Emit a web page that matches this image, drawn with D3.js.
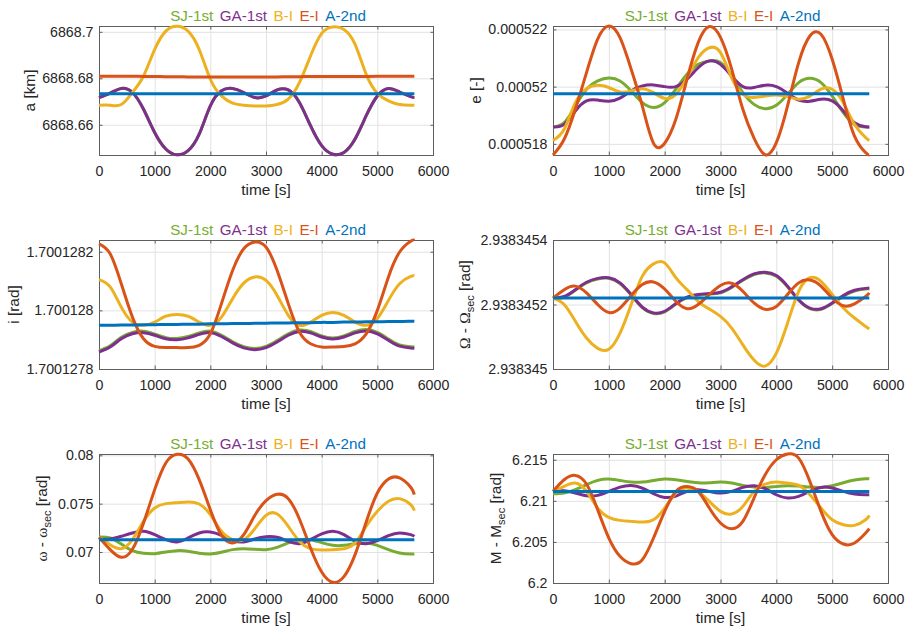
<!DOCTYPE html>
<html>
<head>
<meta charset="utf-8">
<script src="https://cdn.jsdelivr.net/npm/d3@7"></script>
<style>
  body { margin: 0; background: #fff; }
  svg { font-family: "Liberation Sans", Arial, Helvetica, sans-serif; }
</style>
</head>
<body>
<svg id="fig" width="905" height="631"></svg>
<script>
// time samples [s], one orbit
const time = [0, 200, 400, 600, 800, 1000, 1200, 1400, 1600, 1800, 2000, 2200, 2400, 2600, 2800,
              3000, 3200, 3400, 3600, 3800, 4000, 4200, 4400, 4600, 4800, 5000, 5200, 5400, 5600, 5665];
const xTicks = [0, 1000, 2000, 3000, 4000, 5000, 6000];
const xTickLabels = ["0", "1000", "2000", "3000", "4000", "5000", "6000"];
const seriesNames = ["SJ-1st", "GA-1st", "B-I", "E-I", "A-2nd"];
const seriesColors = ["#77AC30", "#7E2F8E", "#EDB120", "#D95319", "#0072BD"];

// semi-major axis a [km]
const aGA = [6868.6717, 6868.6736, 6868.6756, 6868.6739, 6868.6667, 6868.6567, 6868.6496, 6868.6471, 6868.6489, 6868.6560,
             6868.6681, 6868.6746, 6868.6756, 6868.6739, 6868.6717, 6868.6724, 6868.6750, 6868.6750, 6868.6696, 6868.6596,
             6868.6510, 6868.6473, 6868.6481, 6868.6539, 6868.6639, 6868.6724, 6868.6756, 6868.6741, 6868.6721, 6868.6717];
const aSJ = [6868.6717, 6868.6736, 6868.6756, 6868.6739, 6868.6667, 6868.6567, 6868.6496, 6868.6471, 6868.6489, 6868.6560,
             6868.6681, 6868.6746, 6868.6756, 6868.6739, 6868.6717, 6868.6724, 6868.6750, 6868.6750, 6868.6696, 6868.6596,
             6868.6510, 6868.6473, 6868.6481, 6868.6539, 6868.6639, 6868.6724, 6868.6756, 6868.6741, 6868.6721, 6868.6717];
const aBI = [6868.6684, 6868.6684, 6868.6687, 6868.6739, 6868.6810, 6868.6924, 6868.7003, 6868.7024, 6868.7003, 6868.6924,
             6868.6796, 6868.6724, 6868.6693, 6868.6684, 6868.6681, 6868.6681, 6868.6687, 6868.6710, 6868.6781, 6868.6896,
             6868.6993, 6868.7021, 6868.7010, 6868.6946, 6868.6817, 6868.6736, 6868.6703, 6868.6687, 6868.6684, 6868.6684];
const aEI = [6868.6809, 6868.6809, 6868.6809, 6868.6809, 6868.6808, 6868.6808, 6868.6807, 6868.6807, 6868.6806, 6868.6806,
             6868.6806, 6868.6806, 6868.6806, 6868.6806, 6868.6806, 6868.6806, 6868.6806, 6868.6807, 6868.6807, 6868.6808,
             6868.6808, 6868.6808, 6868.6808, 6868.6808, 6868.6808, 6868.6809, 6868.6809, 6868.6809, 6868.6809, 6868.6809];
const aA2 = [6868.6734, 6868.6734, 6868.6734, 6868.6734, 6868.6734, 6868.6734, 6868.6734, 6868.6734, 6868.6734, 6868.6734,
             6868.6734, 6868.6734, 6868.6734, 6868.6734, 6868.6734, 6868.6734, 6868.6734, 6868.6734, 6868.6734, 6868.6734,
             6868.6734, 6868.6734, 6868.6734, 6868.6734, 6868.6734, 6868.6734, 6868.6734, 6868.6734, 6868.6734, 6868.6734];

// eccentricity e [-]
const eSJ = [0.00051859, 0.00051874, 0.00051932, 0.00051991, 0.0005202, 0.0005203, 0.0005202, 0.00051985, 0.00051944, 0.00051927,
             0.00051944, 0.00051991, 0.00052043, 0.00052078, 0.0005209, 0.00052084, 0.00052037, 0.00051979, 0.00051938, 0.00051923,
             0.00051935, 0.00051973, 0.00052014, 0.00052029, 0.00052014, 0.00051967, 0.00051909, 0.00051868, 0.00051859, 0.00051859];
const eGA = [0.00051859, 0.00051868, 0.00051915, 0.0005195, 0.00051953, 0.00051949, 0.0005196, 0.00051985, 0.00052002, 0.00052006,
             0.00052, 0.00052, 0.00052026, 0.00052066, 0.0005209, 0.00052078, 0.00052037, 0.00052, 0.00051997, 0.00052005,
             0.00052, 0.00051977, 0.00051953, 0.00051949, 0.00051956, 0.0005195, 0.00051915, 0.00051874, 0.0005186, 0.00051859];
const eBI = [0.00051812, 0.00051851, 0.00051944, 0.00051993, 0.00052005, 0.00051997, 0.00051981, 0.00051985, 0.00051993, 0.00051979,
             0.00051959, 0.00051973, 0.00052031, 0.00052101, 0.00052136, 0.00052119, 0.00052031, 0.00051973, 0.00051962, 0.00051967,
             0.00051971, 0.00051965, 0.00051956, 0.00051967, 0.00051991, 0.00051991, 0.00051944, 0.00051868, 0.00051822, 0.00051812];
const eEI = [0.00051761, 0.00051816, 0.00051921, 0.00052049, 0.00052166, 0.00052212, 0.00052171, 0.00052061, 0.00051932, 0.00051802,
             0.00051802, 0.00051886, 0.00052026, 0.00052154, 0.0005221, 0.00052172, 0.00052061, 0.00051921, 0.0005182, 0.00051762,
             0.00051804, 0.00051932, 0.00052084, 0.00052177, 0.00052183, 0.00052096, 0.00051956, 0.00051827, 0.00051769, 0.00051761];
const eA2 = [0.000519755, 0.000519755, 0.000519755, 0.000519755, 0.000519755, 0.000519755, 0.000519755, 0.000519755, 0.000519755, 0.000519755,
             0.000519755, 0.000519755, 0.000519755, 0.000519755, 0.000519755, 0.000519755, 0.000519755, 0.000519755, 0.000519755, 0.000519755,
             0.000519755, 0.000519755, 0.000519755, 0.000519755, 0.000519755, 0.000519755, 0.000519755, 0.000519755, 0.000519755, 0.000519755];

// inclination i [rad]
const iSJ = [1.700127862, 1.700127879, 1.700127908, 1.700127925, 1.700127929, 1.700127919, 1.700127907, 1.700127904, 1.700127911, 1.700127923,
             1.700127929, 1.700127915, 1.700127893, 1.700127876, 1.70012787, 1.700127877, 1.700127897, 1.70012792, 1.700127933, 1.700127928,
             1.700127913, 1.700127906, 1.700127913, 1.700127928, 1.700127935, 1.700127925, 1.700127902, 1.700127882, 1.700127876, 1.700127875];
const iGA = [1.700127858, 1.700127875, 1.700127903, 1.70012792, 1.700127924, 1.700127915, 1.700127903, 1.7001279, 1.700127906, 1.700127918,
             1.700127924, 1.700127911, 1.700127889, 1.700127872, 1.700127866, 1.700127873, 1.700127892, 1.700127915, 1.700127928, 1.700127923,
             1.700127909, 1.700127902, 1.700127909, 1.700127923, 1.70012793, 1.70012792, 1.700127898, 1.700127878, 1.700127872, 1.700127871];
const iBI = [1.700128105, 1.70012808, 1.700128011, 1.70012796, 1.700127949, 1.70012796, 1.70012798, 1.700127986, 1.70012798, 1.70012796,
             1.700127949, 1.700127977, 1.70012804, 1.700128093, 1.700128114, 1.700128102, 1.700128051, 1.700127983, 1.700127949, 1.70012796,
             1.700127983, 1.700127993, 1.700127983, 1.70012796, 1.700127949, 1.700127972, 1.700128034, 1.700128091, 1.700128116, 1.700128118];
const iEI = [1.700128227, 1.700128193, 1.700128091, 1.700127977, 1.700127903, 1.700127877, 1.700127873, 1.700127873, 1.700127873, 1.700127881,
             1.70012792, 1.700128023, 1.700128136, 1.70012821, 1.700128233, 1.700128216, 1.700128136, 1.700128023, 1.700127926, 1.700127886,
             1.700127875, 1.700127875, 1.700127877, 1.700127886, 1.70012792, 1.700128, 1.700128114, 1.700128199, 1.700128236, 1.700128239];
const iA2 = [1.700127949, 1.700127949, 1.70012795, 1.70012795, 1.700127951, 1.700127951, 1.700127952, 1.700127952, 1.700127953, 1.700127953,
             1.700127954, 1.700127954, 1.700127955, 1.700127955, 1.700127956, 1.700127956, 1.700127957, 1.700127957, 1.700127958, 1.700127958,
             1.700127959, 1.700127959, 1.70012796, 1.70012796, 1.700127961, 1.700127961, 1.700127962, 1.700127962, 1.700127963, 1.700127963];

// RAAN minus secular part [rad]
const raanSJ = [2.938345218, 2.938345223, 2.938345244, 2.938345267, 2.938345279, 2.938345281, 2.938345265, 2.938345229, 2.93834519, 2.938345172,
                2.938345177, 2.938345201, 2.938345221, 2.938345229, 2.938345232, 2.938345236, 2.938345253, 2.938345275, 2.938345293, 2.938345298,
                2.938345288, 2.938345255, 2.938345213, 2.938345187, 2.938345185, 2.938345203, 2.938345226, 2.938345242, 2.938345248, 2.938345249];
const raanGA = [2.93834522, 2.938345225, 2.938345246, 2.938345269, 2.938345281, 2.938345283, 2.938345267, 2.938345231, 2.938345192, 2.938345174,
                2.938345179, 2.938345203, 2.938345223, 2.938345231, 2.938345234, 2.938345238, 2.938345255, 2.938345277, 2.938345295, 2.9383453,
                2.93834529, 2.938345257, 2.938345215, 2.938345189, 2.938345187, 2.938345205, 2.938345228, 2.938345244, 2.93834525, 2.938345251];
const raanBI = [2.93834522, 2.9383452, 2.938345148, 2.938345096, 2.938345064, 2.938345061, 2.938345111, 2.9383452, 2.938345288, 2.938345326,
                2.938345329, 2.938345283, 2.938345246, 2.93834521, 2.938345186, 2.938345163, 2.938345127, 2.938345075, 2.938345028, 2.938345009,
                2.938345049, 2.938345142, 2.938345241, 2.938345283, 2.938345272, 2.938345231, 2.938345189, 2.938345158, 2.938345132, 2.938345124];
const raanEI = [2.93834522, 2.938345246, 2.938345257, 2.938345236, 2.9383452, 2.938345175, 2.938345189, 2.938345228, 2.938345262, 2.93834527,
                2.938345248, 2.93834521, 2.938345187, 2.9383452, 2.938345231, 2.938345259, 2.938345266, 2.938345241, 2.938345205, 2.938345185,
                2.938345194, 2.938345231, 2.938345267, 2.938345276, 2.938345257, 2.93834522, 2.938345196, 2.938345202, 2.938345225, 2.938345236];
const raanA2 = [2.93834522, 2.93834522, 2.93834522, 2.93834522, 2.93834522, 2.93834522, 2.93834522, 2.93834522, 2.93834522, 2.93834522,
                2.93834522, 2.93834522, 2.93834522, 2.93834522, 2.93834522, 2.93834522, 2.93834522, 2.93834522, 2.93834522, 2.93834522,
                2.93834522, 2.93834522, 2.93834522, 2.93834522, 2.93834522, 2.93834522, 2.93834522, 2.93834522, 2.93834522, 2.93834522];

// argument of perigee minus secular part [rad]
const argpSJ = [0.071552, 0.071449, 0.070828, 0.070138, 0.069862, 0.069828, 0.07, 0.070138, 0.070069, 0.069862,
                0.069793, 0.069966, 0.070242, 0.070345, 0.070276, 0.070242, 0.070483, 0.070932, 0.071276, 0.071276,
                0.070966, 0.07069, 0.07069, 0.070862, 0.070932, 0.07069, 0.070242, 0.069897, 0.069793, 0.069793];
const argpGA = [0.071346, 0.071346, 0.071622, 0.071967, 0.072139, 0.071794, 0.071277, 0.071035, 0.071449, 0.071967,
                0.07207, 0.071725, 0.071208, 0.071035, 0.071346, 0.071587, 0.071518, 0.071104, 0.070862, 0.071277,
                0.071863, 0.072139, 0.071794, 0.071104, 0.070862, 0.071173, 0.071691, 0.071967, 0.071794, 0.071622];
const argpBI = [0.071518, 0.070759, 0.070345, 0.071277, 0.073174, 0.074554, 0.075003, 0.075106, 0.075175, 0.074968,
                0.073864, 0.072139, 0.071277, 0.071277, 0.072415, 0.073795, 0.073933, 0.072657, 0.071104, 0.070345,
                0.070207, 0.070242, 0.070345, 0.070932, 0.072657, 0.074209, 0.075244, 0.07552, 0.074899, 0.074278];
const argpEI = [0.071518, 0.070242, 0.069448, 0.070276, 0.073002, 0.076452, 0.079212, 0.080109, 0.079626, 0.077487,
                0.074382, 0.071725, 0.070932, 0.071794, 0.073795, 0.075313, 0.075969, 0.07552, 0.073416, 0.070414,
                0.06793, 0.06686, 0.067447, 0.069724, 0.073105, 0.076107, 0.077556, 0.077659, 0.076693, 0.075934];
const argpA2 = [0.071276, 0.071276, 0.071276, 0.071276, 0.071276, 0.071276, 0.071276, 0.071276, 0.071276, 0.071276,
                0.071276, 0.071276, 0.071276, 0.071276, 0.071276, 0.071276, 0.071276, 0.071276, 0.071276, 0.071276,
                0.071276, 0.071276, 0.071276, 0.071276, 0.071276, 0.071276, 0.071276, 0.071276, 0.071276, 0.071276];

// mean anomaly minus secular part [rad]
const mSJ = [6.210865, 6.210946, 6.211351, 6.211959, 6.212486, 6.212648, 6.212486, 6.212284, 6.212284, 6.212486,
             6.212648, 6.212567, 6.212365, 6.212203, 6.212203, 6.212284, 6.212162, 6.211878, 6.211676, 6.211635,
             6.211757, 6.211838, 6.211797, 6.211676, 6.211635, 6.211838, 6.212203, 6.212527, 6.212689, 6.212689];
const mGA = [6.21127, 6.21123, 6.210946, 6.210621, 6.210662, 6.211149, 6.211676, 6.211878, 6.211554, 6.210865,
             6.210419, 6.210581, 6.211149, 6.211351, 6.211149, 6.210946, 6.211149, 6.211635, 6.211838, 6.211473,
             6.210743, 6.210338, 6.21054, 6.211149, 6.211635, 6.211554, 6.211149, 6.210824, 6.210743, 6.210743];
const mBI = [6.211149, 6.211757, 6.212162, 6.211149, 6.209122, 6.207986, 6.207622, 6.2075, 6.207419, 6.207703,
             6.209122, 6.210946, 6.211554, 6.211149, 6.209932, 6.208716, 6.208392, 6.209324, 6.211149, 6.21204,
             6.212284, 6.212162, 6.211878, 6.210743, 6.209122, 6.207703, 6.207095, 6.207013, 6.207703, 6.20823];
const mEI = [6.211149, 6.212567, 6.213094, 6.21204, 6.208919, 6.205473, 6.203243, 6.202351, 6.202838, 6.205473,
             6.208716, 6.211149, 6.211757, 6.211149, 6.209122, 6.207297, 6.206608, 6.2075, 6.210338, 6.213176,
             6.215, 6.215689, 6.215203, 6.212365, 6.208716, 6.205878, 6.204743, 6.204865, 6.206081, 6.206608];
const mA2 = [6.211149, 6.211149, 6.211149, 6.211149, 6.211149, 6.211149, 6.211149, 6.211149, 6.211149, 6.211149,
             6.211149, 6.211149, 6.211149, 6.211149, 6.211149, 6.211149, 6.211149, 6.211149, 6.211149, 6.211149,
             6.211149, 6.211149, 6.211149, 6.211149, 6.211149, 6.211149, 6.211149, 6.211149, 6.211149, 6.211149];

// y axis ticks
const aTicks = [6868.66, 6868.68, 6868.7],     aTickLabels = ["6868.66", "6868.68", "6868.7"];
const eTicks = [0.000518, 0.00052, 0.000522],  eTickLabels = ["0.000518", "0.00052", "0.000522"];
const iTicks = [1.7001278, 1.700128, 1.7001282], iTickLabels = ["1.7001278", "1.700128", "1.7001282"];
const raanTicks = [2.938345, 2.9383452, 2.9383454], raanTickLabels = ["2.938345", "2.9383452", "2.9383454"];
const argpTicks = [0.07, 0.075, 0.08],          argpTickLabels = ["0.07", "0.075", "0.08"];
const mTicks = [6.2, 6.205, 6.21, 6.215],       mTickLabels = ["6.2", "6.205", "6.21", "6.215"];

const panels = [
  { row: 0, col: 0, domain: [6868.6470, 6868.7025], ticks: aTicks, tickLabels: aTickLabels,
    series: [aSJ, aGA, aBI, aEI, aA2], label: [{ t: "a [km]" }] },
  { row: 0, col: 1, domain: [0.00051761, 0.00052212], ticks: eTicks, tickLabels: eTickLabels,
    series: [eSJ, eGA, eBI, eEI, eA2], label: [{ t: "e [-]" }] },
  { row: 1, col: 0, domain: [1.7001278, 1.70012824], ticks: iTicks, tickLabels: iTickLabels,
    series: [iSJ, iGA, iBI, iEI, iA2], label: [{ t: "i [rad]" }] },
  { row: 1, col: 1, domain: [2.938345, 2.9383454], ticks: raanTicks, tickLabels: raanTickLabels,
    series: [raanSJ, raanGA, raanBI, raanEI, raanA2],
    label: [{ t: "\u03A9", greek: true }, { t: " - " }, { t: "\u03A9", greek: true }, { t: "sec", sub: true }, { t: " [rad]" }] },
  { row: 2, col: 0, domain: [0.06679, 0.08014], ticks: argpTicks, tickLabels: argpTickLabels,
    series: [argpSJ, argpGA, argpBI, argpEI, argpA2],
    label: [{ t: "\u03C9", greek: true }, { t: " - " }, { t: "\u03C9", greek: true }, { t: "sec", sub: true }, { t: " [rad]" }] },
  { row: 2, col: 1, domain: [6.2, 6.2157], ticks: mTicks, tickLabels: mTickLabels,
    series: [mSJ, mGA, mBI, mEI, mA2],
    label: [{ t: "M - M" }, { t: "sec", sub: true }, { t: " [rad]" }] }
];

// layout
const colX = [99, 553], boxW = [334, 335];
const rowY = [26, 240, 454], boxH = 129;
const textColor = "#262626", axisColor = "#5e5e5e", gridColor = "#e2e2e2";

const svg = d3.select("#fig");

panels.forEach((p, k) => {
  const x0 = colX[p.col], y0 = rowY[p.row], w = boxW[p.col];
  const x = d3.scaleLinear().domain([0, 6000]).range([x0, x0 + w]);
  const y = d3.scaleLinear().domain(p.domain).range([y0 + boxH, y0]);
  const g = svg.append("g");

  // grid
  g.append("g").attr("transform", `translate(0,${y0 + boxH})`)
    .call(d3.axisBottom(x).tickValues(xTicks).tickSize(-boxH).tickFormat(""))
    .call(s => s.select(".domain").remove())
    .attr("color", gridColor);
  g.append("g").attr("transform", `translate(${x0},0)`)
    .call(d3.axisLeft(y).tickValues(p.ticks).tickSize(-w).tickFormat(""))
    .call(s => s.select(".domain").remove())
    .attr("color", gridColor);

  // box
  g.append("rect").attr("x", x0 + 0.5).attr("y", y0 + 0.5).attr("width", w).attr("height", boxH)
    .attr("fill", "none").attr("stroke", axisColor).attr("stroke-width", 1);

  // axes with inward ticks on all four sides
  const left = g.append("g").attr("transform", `translate(${x0},0)`)
    .call(d3.axisLeft(y).tickValues(p.ticks).tickSize(-3.5).tickPadding(5.5)
      .tickFormat((d, i) => p.tickLabels[i]));
  const bottom = g.append("g").attr("transform", `translate(0,${y0 + boxH})`)
    .call(d3.axisBottom(x).tickValues(xTicks).tickSize(-3.5).tickPadding(11)
      .tickFormat((d, i) => xTickLabels[i]));
  const right = g.append("g").attr("transform", `translate(${x0 + w + 1},0)`)
    .call(d3.axisRight(y).tickValues(p.ticks).tickSize(-3.5).tickFormat(""));
  const top = g.append("g").attr("transform", `translate(0,${y0})`)
    .call(d3.axisTop(x).tickValues(xTicks).tickSize(-3.5).tickFormat(""));
  [left, bottom, right, top].forEach(a => {
    a.select(".domain").remove();
    a.attr("font-family", null).attr("font-size", 14.2).attr("color", axisColor);
    a.selectAll("text").attr("fill", textColor);
  });

  // data lines
  const clipId = "clip" + k;
  g.append("clipPath").attr("id", clipId).append("rect")
    .attr("x", x0 - 2).attr("y", y0 - 2).attr("width", w + 4).attr("height", boxH + 4);
  const line = d3.line()
    .x((d, i) => x(time[i]))
    .y(d => y(d))
    .curve(d3.curveNatural);
  g.append("g").attr("clip-path", `url(#${clipId})`)
    .selectAll("path").data(p.series).join("path")
    .attr("d", line)
    .attr("fill", "none")
    .attr("stroke", (d, j) => seriesColors[j])
    .attr("stroke-width", 3)
    .attr("stroke-linejoin", "round");

  // x label
  g.append("text").attr("x", x0 + w / 2).attr("y", y0 + boxH + 40)
    .attr("text-anchor", "middle").attr("font-size", 15.4).attr("fill", textColor)
    .text("time [s]");

  // y label, placed just left of the tick labels
  const tickLeft = x0 + left.node().getBBox().x;
  const yl = g.append("text").attr("text-anchor", "middle").attr("font-size", 15.4).attr("fill", textColor);
  let shift = 0;
  p.label.forEach(part => {
    const ts = yl.append("tspan").text(part.t);
    if (part.greek) ts.attr("font-family", "'Liberation Serif', 'DejaVu Serif', serif");
    if (part.sub) { ts.attr("font-size", 11).attr("dy", 4); shift = 4; }
    else if (shift) { ts.attr("dy", -shift); shift = 0; }
  });
  const lb = yl.node().getBBox();
  yl.attr("transform", `translate(${tickLeft - 4.5 - (lb.y + lb.height)},${y0 + boxH / 2}) rotate(-90)`);

  // legend above the box
  const leg = g.append("g").attr("font-size", 15.2);
  const items = leg.selectAll("text").data(seriesNames).join("text")
    .attr("fill", (d, j) => seriesColors[j]).attr("y", y0 - 5.5).text(d => d);
  const widths = items.nodes().map(n => n.getComputedTextLength());
  const gap = 6.5;
  const total = d3.sum(widths) + gap * (widths.length - 1);
  let cx = x0 + w / 2 + 2 - total / 2;
  items.each(function (d, j) {
    d3.select(this).attr("x", cx);
    cx += widths[j] + gap;
  });
});
</script>
</body>
</html>
